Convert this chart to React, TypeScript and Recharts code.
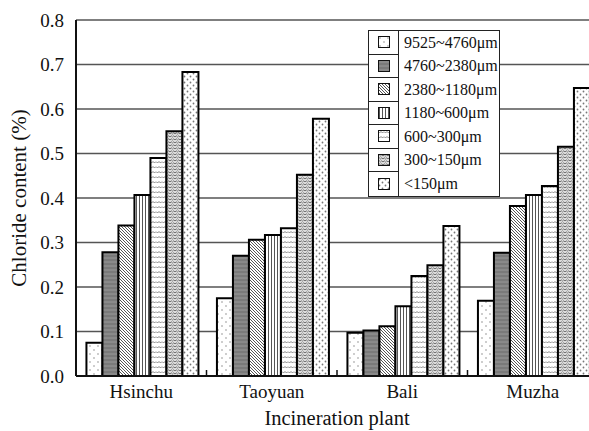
import { BarChart, Bar, XAxis, YAxis, CartesianGrid } from 'recharts';

const plants = ['Hsinchu', 'Taoyuan', 'Bali', 'Muzha'];
const sizes = ['9525~4760μm', '4760~2380μm', '2380~1180μm', '1180~600μm', '600~300μm', '300~150μm', '<150μm'];

const s9525 = [0.075, 0.175, 0.097, 0.169];
const s4760 = [0.278, 0.27, 0.102, 0.277];
const s2380 = [0.338, 0.306, 0.112, 0.382];
const s1180 = [0.407, 0.317, 0.157, 0.407];
const s600 = [0.49, 0.332, 0.225, 0.427];
const s300 = [0.55, 0.452, 0.249, 0.515];
const s150 = [0.683, 0.578, 0.337, 0.647];

const yTicks = [0, 0.1, 0.2, 0.3, 0.4, 0.5, 0.6, 0.7, 0.8];

const seriesValues = [s9525, s4760, s2380, s1180, s600, s300, s150];
const keys = ['a', 'b', 'c', 'd', 'e', 'f', 'g'];

const data = plants.map((p, i) => {
    const row: Record<string, string | number> = { plant: p };
    keys.forEach((k, j) => {
        row[k] = seriesValues[j][i];
    });
    return row;
});

const font = '"Liberation Serif", "Times New Roman", serif';

const Patterns = () => (
    <defs>
        <pattern id="p0" width="8" height="8" patternUnits="userSpaceOnUse">
            <rect width="8" height="8" fill="#fff" />
            <circle cx="2" cy="2" r="0.7" fill="#777" />
            <circle cx="6" cy="6" r="0.7" fill="#777" />
        </pattern>
        <pattern id="p1" width="4" height="4" patternUnits="userSpaceOnUse">
            <rect width="4" height="4" fill="#7a7a7a" />
            <line x1="0" y1="2" x2="4" y2="2" stroke="#999" strokeWidth="1" />
        </pattern>
        <pattern id="p2" width="3" height="3" patternUnits="userSpaceOnUse">
            <rect width="3" height="3" fill="#fff" />
            <path d="M-1,-1 L4,4 M-1,2 L1,4 M2,-1 L4,1" stroke="#555" strokeWidth="1" />
        </pattern>
        <pattern id="p3" width="3" height="3" patternUnits="userSpaceOnUse">
            <rect width="3" height="3" fill="#fff" />
            <line x1="1.5" y1="0" x2="1.5" y2="3" stroke="#555" strokeWidth="1" />
        </pattern>
        <pattern id="p4" width="6" height="5" patternUnits="userSpaceOnUse">
            <rect width="6" height="5" fill="#fff" />
            <path d="M0,1.5 L1.5,3 L3,1.5 L4.5,3 L6,1.5" stroke="#666" strokeWidth="0.8" fill="none" />
        </pattern>
        <pattern id="p5" width="5" height="3" patternUnits="userSpaceOnUse">
            <rect width="5" height="3" fill="#ddd" />
            <path d="M0,2 L1.25,0.8 L2.5,2 L3.75,0.8 L5,2" stroke="#555" strokeWidth="0.8" fill="none" />
        </pattern>
        <pattern id="p6" width="6" height="6" patternUnits="userSpaceOnUse">
            <rect width="6" height="6" fill="#fff" />
            <circle cx="1.5" cy="1.5" r="0.9" fill="#777" />
            <circle cx="4.5" cy="4.5" r="0.9" fill="#777" />
        </pattern>
    </defs>
);

// category label plus the small separator mark at the right edge of each band
const PlantTick = (props: any) => {
    const { x, y, payload, index } = props;
    const half = payload && payload.offset ? payload.offset : 0;
    const axisY = y - 4;
    return (
        <g>
            {index < plants.length - 1 && half > 0 && (
                <line x1={x + half} x2={x + half} y1={axisY} y2={axisY - 6} stroke="#111" strokeWidth={1.5} />
            )}
            <text x={x} y={y + 5} dy="0.71em" textAnchor="middle" fill="#111" fontSize={19} fontFamily={font}>
                {payload.value}
            </text>
        </g>
    );
};

const LegendBox = () => (
    <div
        style={{
            position: 'absolute',
            left: 368,
            top: 30,
            width: 130,
            border: '1px solid #222',
            background: '#fff',
            fontFamily: font,
            fontSize: 16,
            color: '#111',
        }}
    >
        {sizes.map((s, i) => (
            <div key={s} style={{ display: 'flex', height: 23.5, alignItems: 'center' }}>
                <div
                    style={{
                        width: 30,
                        height: '100%',
                        borderRight: '1px solid #222',
                        borderBottom: i < sizes.length - 1 ? '1px solid #222' : 'none',
                        display: 'flex',
                        alignItems: 'center',
                        justifyContent: 'center',
                        boxSizing: 'border-box',
                    }}
                >
                    <svg width={12} height={12}>
                        <rect x={0.5} y={0.5} width={11} height={11} fill={`url(#p${i})`} stroke="#111" strokeWidth={1} />
                    </svg>
                </div>
                <div style={{ paddingLeft: 5, whiteSpace: 'nowrap' }}>{s}</div>
            </div>
        ))}
    </div>
);

const App = () => {
    return (
        <div style={{ position: 'absolute', left: 0, top: 0, width: 589, height: 431, overflow: 'hidden', background: '#fff' }}>
            <BarChart
                width={600}
                height={431}
                data={data}
                margin={{ top: 20, right: 2, left: 0, bottom: 0 }}
                barCategoryGap="8%"
                barGap={0}
            >
                <Patterns />
                <CartesianGrid vertical={false} stroke="#555" strokeWidth={1.5} />
                <XAxis
                    dataKey="plant"
                    height={55}
                    tickLine={false}
                    tickSize={0}
                    tickMargin={4}
                    axisLine={{ stroke: '#111', strokeWidth: 2 }}
                    tick={<PlantTick />}
                    label={{ value: 'Incineration plant', position: 'insideBottom', offset: 6, fill: '#111', fontSize: 20.5, fontFamily: font }}
                />
                <YAxis
                    width={76}
                    domain={[0, 0.8]}
                    ticks={yTicks}
                    tickFormatter={(v: number) => v.toFixed(1)}
                    tickLine={false}
                    axisLine={{ stroke: '#111', strokeWidth: 2 }}
                    tick={{ fill: '#111', fontSize: 19, fontFamily: font }}
                    tickMargin={6}
                    label={{ value: 'Chloride content (%)', angle: -90, position: 'insideLeft', offset: 19, style: { textAnchor: 'middle' }, fill: '#111', fontSize: 21, fontFamily: font }}
                />
                {keys.map((k, i) => (
                    <Bar
                        key={k}
                        dataKey={k}
                        name={sizes[i]}
                        fill={`url(#p${i})`}
                        stroke="#000"
                        strokeWidth={2}
                        isAnimationActive={false}
                    />
                ))}
            </BarChart>
            <LegendBox />
        </div>
    );
};

export default App;
